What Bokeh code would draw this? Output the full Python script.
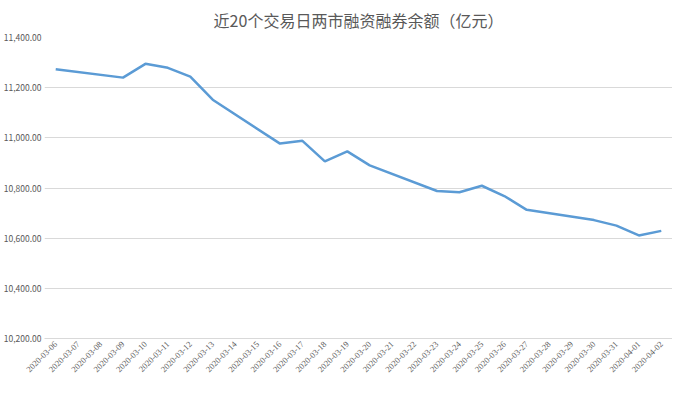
import math
from bokeh.plotting import figure
from bokeh.models import FactorRange, Range1d, NumeralTickFormatter, FixedTicker
from bokeh.embed import file_html
from bokeh.resources import INLINE

title_text = "近20个交易日两市融资融券余额（亿元）"

all_dates = [
    "2020-03-06", "2020-03-07", "2020-03-08", "2020-03-09", "2020-03-10",
    "2020-03-11", "2020-03-12", "2020-03-13", "2020-03-14", "2020-03-15",
    "2020-03-16", "2020-03-17", "2020-03-18", "2020-03-19", "2020-03-20",
    "2020-03-21", "2020-03-22", "2020-03-23", "2020-03-24", "2020-03-25",
    "2020-03-26", "2020-03-27", "2020-03-28", "2020-03-29", "2020-03-30",
    "2020-03-31", "2020-04-01", "2020-04-02",
]

trade_dates = [
    "2020-03-06", "2020-03-09", "2020-03-10", "2020-03-11", "2020-03-12",
    "2020-03-13", "2020-03-16", "2020-03-17", "2020-03-18", "2020-03-19",
    "2020-03-20", "2020-03-23", "2020-03-24", "2020-03-25", "2020-03-26",
    "2020-03-27", "2020-03-30", "2020-03-31", "2020-04-01", "2020-04-02",
]

balance = [
    11273, 11240, 11295, 11279, 11244,
    11152, 10977, 10988, 10906, 10946,
    10890, 10788, 10783, 10809, 10768,
    10713, 10672, 10650, 10611, 10629,
]

y_ticks = [10200, 10400, 10600, 10800, 11000, 11200, 11400]

FONT = "Noto Sans CJK SC"
NUMFONT = "Liberation Sans Narrow"
GRAY = "#595959"

p = figure(
    width=672, height=377,
    x_range=FactorRange(factors=all_dates, range_padding=0),
    y_range=Range1d(10200, 11400),
    output_backend="svg", toolbar_location=None,
    title=title_text,
    min_border_left=4, min_border_right=0, min_border_top=0, min_border_bottom=0,
)

p.title.align = "center"
p.title.text_font = FONT
p.title.text_font_size = "16px"
p.title.text_font_style = "normal"
p.title.text_color = GRAY
p.title.offset = 0
p.title.standoff = 11

p.line(trade_dates, balance, line_color="#5b9bd5", line_width=2.5)

p.outline_line_color = None
p.xgrid.grid_line_color = None
p.ygrid.grid_line_color = "#d9d9d9"
p.ygrid.grid_line_width = 1

p.yaxis.ticker = FixedTicker(ticks=y_ticks)
p.yaxis.formatter = NumeralTickFormatter(format="0,0.00")
p.yaxis.axis_line_color = None
p.yaxis.major_tick_line_color = None
p.yaxis.major_tick_out = 0
p.yaxis.major_tick_in = 0
p.yaxis.minor_tick_line_color = None
p.yaxis.major_label_text_font = FONT
p.yaxis.major_label_text_font_size = "8.5px"
p.yaxis.major_label_text_color = GRAY
p.yaxis.major_label_standoff = 3

p.xaxis.axis_line_color = "#d9d9d9"
p.xaxis.major_tick_line_color = None
p.xaxis.major_tick_out = 0
p.xaxis.major_tick_in = 0
p.xaxis.minor_tick_line_color = None
p.xaxis.major_label_orientation = math.pi / 4
p.xaxis.major_label_text_font = NUMFONT
p.xaxis.major_label_text_font_size = "8.5px"
p.xaxis.major_label_text_color = GRAY
p.xaxis.major_label_standoff = 4

open("out.html", "w").write(file_html(p, INLINE))
